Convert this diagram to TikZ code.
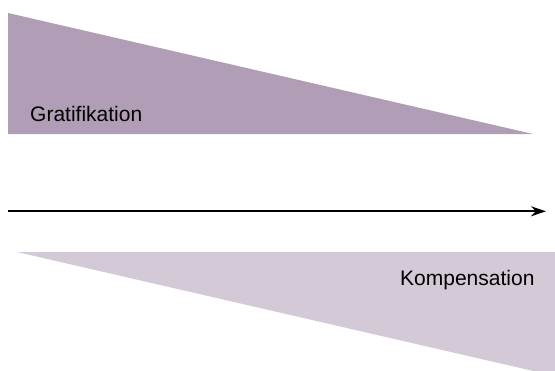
\documentclass[tikz,border=0pt]{standalone}
\usepackage{fontspec}
\setmainfont{Liberation Sans}
\usepackage{tikz}
\usetikzlibrary{positioning}
\usetikzlibrary{arrows.meta}

\definecolor{gratcol}{HTML}{B19DB5}
\definecolor{kompcol}{HTML}{D4C9D7}

\tikzset{
  wedge/.style={fill=#1,draw=none},
  lbl/.style={inner sep=0pt,anchor=base west,font=\fontsize{21}{25}\selectfont}
}

\begin{document}
\begin{tikzpicture}[x=1pt,y=-1pt]
\useasboundingbox (0,0) rectangle (555,370);
% upper wedge
\fill[wedge=gratcol] (8,13) -- (533,134) -- (8,134) -- cycle;
\node[lbl] (grat) at (30,121) {Gratifikation};
% lower wedge
\fill[wedge=kompcol] (17,252) -- (555,252) -- (555,376) -- cycle;
\node[lbl] (komp) at (400,285) {Kompensation};
% time axis
\coordinate (tstart) at (8,211.3);
\coordinate (tend) at (546,211.3);
\draw[line width=2.2pt,-{Stealth[length=15pt,width=10pt]}] (tstart) -- (tend);
\end{tikzpicture}
\end{document}
